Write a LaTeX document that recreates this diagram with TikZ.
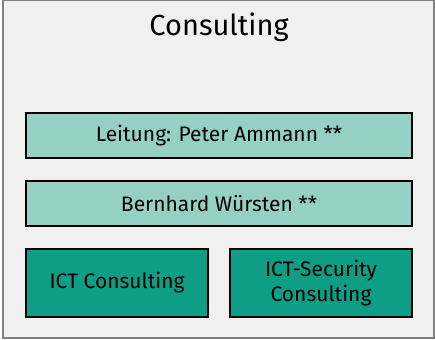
\documentclass[tikz,border=0pt]{standalone}
\usepackage{fontspec}
\setmainfont{Fira Sans}
\usepackage{xcolor}
\definecolor{frameGray}{RGB}{128,128,128}
\definecolor{paneGray}{RGB}{240,240,240}
\definecolor{tealLight}{RGB}{148,208,196}
\definecolor{tealDark}{RGB}{13,158,133}

\begin{document}
\begin{tikzpicture}[x=1pt, y=-1pt,
    unitbox/.style={draw=black, line width=1.2pt, inner sep=0pt, align=center,
      font=\fontsize{21}{25}\selectfont},
    leadbox/.style={unitbox, fill=tealLight, minimum width=386pt, minimum height=45pt},
    teambox/.style={unitbox, fill=tealDark, minimum width=182pt, minimum height=68pt}]
    \useasboundingbox (0,0) rectangle (435,339);

    % Outer frame of the department
    \draw[frameGray, fill=paneGray, line width=2pt] (2.5,0.5) rectangle (433.5,337.5);
    \node[font=\fontsize{29}{32}\selectfont, anchor=base] (title) at (219,36) {Consulting};

    % Leadership rows
    \node[leadbox] (lead) at (219,135.5) {Leitung: Peter Ammann **};
    \node[leadbox] (deputy) at (219,203.5) {Bernhard Würsten **};

    % Teams
    \node[teambox] (ict) at (117,283) {ICT Consulting};
    \node[teambox] (sec) at (321,283) {ICT-Security\\Consulting};
\end{tikzpicture}
\end{document}
